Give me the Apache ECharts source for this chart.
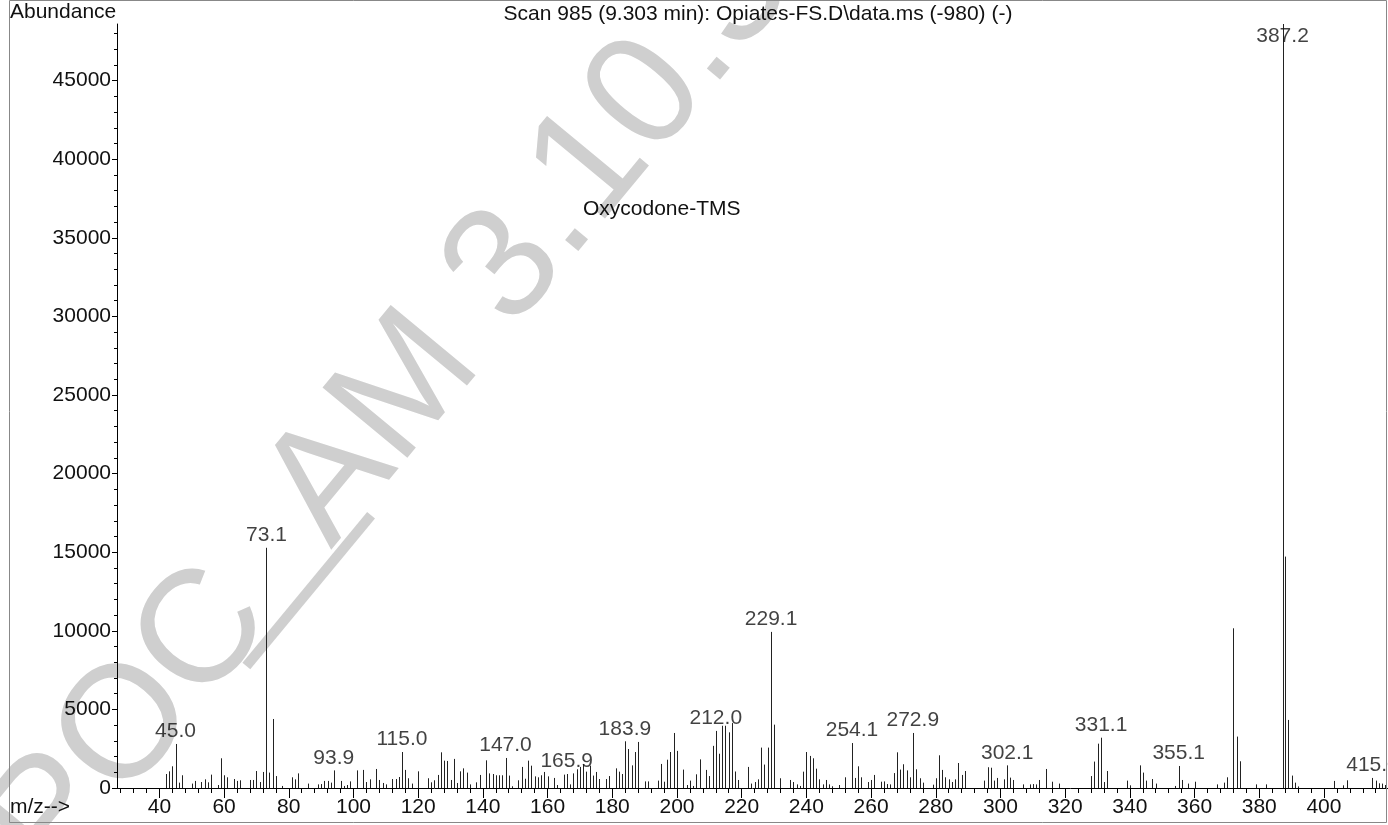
<!DOCTYPE html>
<html>
<head>
<meta charset="utf-8">
<script src="https://cdn.jsdelivr.net/npm/echarts@6/dist/echarts.min.js"></script>
<style>
html,body{margin:0;padding:0;background:#fff;}
#chart{width:1388px;height:825px;}
</style>
</head>
<body>
<div id="chart"></div>
<script>
// m/z values (labelled peaks carry their decimal value)
const mzValues = [
 42,43,44,45.0,46,47,50,51,53,54,55,56,58,59,60,61,63,64,65,68,69,70,71,72,73.1,74,75,76,78,
 81,82,83,86,89,90,91,92,93,93.9,96,97,98,99,101,103,104,105,107,108,109,110,112,113,114,115.0,116,117,118,120,
 123,124,125,126,127,128,129,130,131,132,133,134,135,136,138,139,141,142,143,144,145,146,147.0,148,149,
 151,152,153,154,155,156,157,158,159,160,162,163,165,165.9,167,168,169,170,171,172,173,174,175,176,178,179,
 181,182,183,183.9,185,186,187,188,190,191,194,195,196,197,198,199,200,202,203,204,205,206,207,209,210,
 211,212.0,213,214,215,216,217,218,219,222,223,224,225,226,227,228,229.1,230,232,235,236,237,238,239,240,
 241,242,243,244,245,246,247,248,250,252,254.1,255,256,257,259,260,261,263,264,265,266,267,268,269,270,
 271,272,272.9,274,275,276,279,280,281,282,283,284,285,286,287,288,289,295,296,297,298,299,301,302.1,303,304,
 307,309,310,311,312,314,316,318,328,329,330,331.1,332,333,339,340,343,344,345,347,348,354,355.1,356,358,360,
 367,369,370,372,373,374,379,382,387.2,388,389,390,391,392,403,406,407,415.0,416,417,418,419
];
const abundance = [
 890,1060,1380,2800,340,810,280,450,380,550,360,850,190,1890,810,680,570,450,490,510,510,1080,380,1020,15280,980,4390,760,130,
 680,550,930,280,230,250,450,450,340,1120,450,130,190,420,1120,1150,380,550,1210,510,320,230,570,570,700,2290,1150,620,280,1060,
 620,360,490,830,2270,1740,1720,510,1850,320,1060,1250,980,230,360,830,1760,930,890,810,810,810,1910,790,110,
 490,1340,590,1740,1420,740,680,810,1020,740,640,190,850,890,230,930,1190,1340,1530,1040,1420,790,1020,570,570,760,
 1250,1040,890,2970,2480,1440,2290,2930,420,420,470,1530,400,1800,2290,3500,2360,1170,190,470,130,870,1820,1150,760,
 2680,3630,2180,3960,3960,3540,4130,1050,510,1340,280,380,550,2570,1490,2570,9930,4030,620,510,380,230,130,1040,2290,
 2040,1890,1230,550,230,510,230,110,190,680,2860,640,1380,680,380,510,830,400,420,250,230,950,2270,1170,1510,
 1120,680,3500,1190,620,340,210,620,2080,1150,680,550,380,550,1590,830,1080,470,1320,1290,470,640,550,1440,660,510,
 230,230,250,230,510,1210,400,280,760,1680,2820,3200,380,1080,470,170,1440,980,470,570,280,130,1400,510,280,400,
 230,340,680,10160,3270,1700,230,230,48600,14720,4330,790,340,100,450,170,490,640,470,300,280,190
];
// labelled peaks
const labelMz = [45.0,73.1,93.9,115.0,147.0,165.9,183.9,212.0,229.1,254.1,272.9,302.1,331.1,355.1,387.2,415.0];

// axis ticks
const xMajorTicks = [40,60,80,100,120,140,160,180,200,220,240,260,280,300,320,340,360,380,400];
const xMinorTicks = [28,32,36,44,48,52,56,64,68,72,76,84,88,92,96,104,108,112,116,124,128,132,136,144,148,152,156,
 164,168,172,176,184,188,192,196,204,208,212,216,224,228,232,236,244,248,252,256,264,268,272,276,284,288,292,296,
 304,308,312,316,324,328,332,336,344,348,352,356,364,368,372,376,384,388,392,396,404,408,412,416];
const yMajorTicks = [0,5000,10000,15000,20000,25000,30000,35000,40000,45000];
const yMinorTicks = [1000,2000,3000,4000,6000,7000,8000,9000,11000,12000,13000,14000,16000,17000,18000,19000,
 21000,22000,23000,24000,26000,27000,28000,29000,31000,32000,33000,34000,36000,37000,38000,39000,41000,42000,43000,44000,46000,47000,48000];

const xMin = 26.9, xMax = 419.8, yMin = 0, yMax = 48600;

const FONT = '"Liberation Sans", Arial, Helvetica, sans-serif';
const FS = 21;
const peakData = mzValues.map((m, i) => [m, abundance[i]]);
const labelData = labelMz.map(m => {
  const i = mzValues.indexOf(m);
  const item = { value: [m, abundance[i]] };
  if (abundance[i] >= yMax) item.label = { position: 'bottom', distance: 2 };
  return item;
});

const WM = { fontSize: 160, fontFamily: FONT, fill: '#cfcfcf', verticalAlign: 'middle' };

const chart = echarts.init(document.getElementById('chart'), null, { renderer: 'canvas' });
const option = {
  animation: false,
  backgroundColor: '#ffffff',
  textStyle: { fontFamily: FONT },
  grid: { left: 117, right: 0, top: 24, bottom: 37, containLabel: false },
  xAxis: [
    {
      type: 'value', min: xMin, max: xMax, position: 'bottom',
      axisLine: { show: true, onZero: false, lineStyle: { color: '#000', width: 1 } },
      axisTick: { show: true, customValues: xMajorTicks, length: 10, lineStyle: { color: '#000' } },
      axisLabel: { show: true, customValues: xMajorTicks, fontSize: FS, color: '#111', margin: 9, fontFamily: FONT },
      splitLine: { show: false }
    },
    {
      type: 'value', min: xMin, max: xMax, position: 'bottom',
      axisLine: { show: false, onZero: false },
      axisTick: { show: true, customValues: xMinorTicks, length: 5, lineStyle: { color: '#000' } },
      axisLabel: { show: false },
      splitLine: { show: false }
    }
  ],
  yAxis: [
    {
      type: 'value', min: yMin, max: yMax, position: 'left',
      axisLine: { show: true, onZero: false, lineStyle: { color: '#000', width: 1 } },
      axisTick: { show: true, customValues: yMajorTicks, length: 5, lineStyle: { color: '#000' } },
      axisLabel: { show: true, customValues: yMajorTicks, fontSize: FS, color: '#111', margin: 6, fontFamily: FONT,
                   formatter: v => String(v) },
      splitLine: { show: false }
    },
    {
      type: 'value', min: yMin, max: yMax, position: 'left',
      axisLine: { show: false, onZero: false },
      axisTick: { show: true, customValues: yMinorTicks, length: 3, lineStyle: { color: '#000' } },
      axisLabel: { show: false },
      splitLine: { show: false }
    }
  ],
  series: [
    {
      type: 'custom',
      xAxisIndex: 0, yAxisIndex: 0,
      clip: true,
      z: 3,
      data: peakData,
      renderItem: function (params, api) {
        const x = api.value(0), y = api.value(1);
        const p0 = api.coord([x, 0]);
        const p1 = api.coord([x, y]);
        const px = Math.round(p0[0]) + 0.5;
        return {
          type: 'line',
          shape: { x1: px, y1: p0[1], x2: px, y2: p1[1] },
          style: { stroke: '#222', lineWidth: 1 }
        };
      }
    },
    {
      type: 'scatter',
      xAxisIndex: 0, yAxisIndex: 0,
      symbolSize: 0,
      z: 4,
      silent: true,
      data: labelData,
      label: {
        show: true, position: 'top', distance: 2,
        fontSize: FS, color: '#111', fontFamily: FONT,
        formatter: p => p.value[0].toFixed(1)
      }
    }
  ],
  graphic: [
    { type: 'text', z: -10, silent: true, x: 20, y: 858, rotation: 0.88, style: Object.assign({ text: 'POC' }, WM) },
    { type: 'text', z: -10, silent: true, x: 195, y: 617, rotation: 0.88, scaleX: 2.1, style: Object.assign({ text: '_' }, WM) },
    { type: 'text', z: -10, silent: true, x: 297, y: 522, rotation: 0.88, style: Object.assign({ text: 'AM 3.10.3' }, WM) },
    {
      type: 'rect', z: 100, silent: true,
      shape: { x: 9.5, y: 0.5, width: 1377, height: 822 },
      style: { fill: 'none', stroke: '#888', lineWidth: 1 }
    },
    { type: 'text', z: 100, x: 10, y: 2, style: { text: 'Abundance', fontSize: FS, fontFamily: FONT, fill: '#111' } },
    { type: 'text', z: 100, x: 758, y: 4, style: { text: 'Scan 985 (9.303 min): Opiates-FS.D\\data.ms (-980) (-)', fontSize: FS, fontFamily: FONT, fill: '#111', align: 'center' } },
    { type: 'text', z: 100, x: 583, y: 199, style: { text: 'Oxycodone-TMS', fontSize: FS, fontFamily: FONT, fill: '#111' } },
    { type: 'text', z: 100, x: 10, y: 797, style: { text: 'm/z-->', fontSize: FS, fontFamily: FONT, fill: '#111' } }
  ]
};
chart.setOption(option);
</script>
</body>
</html>
